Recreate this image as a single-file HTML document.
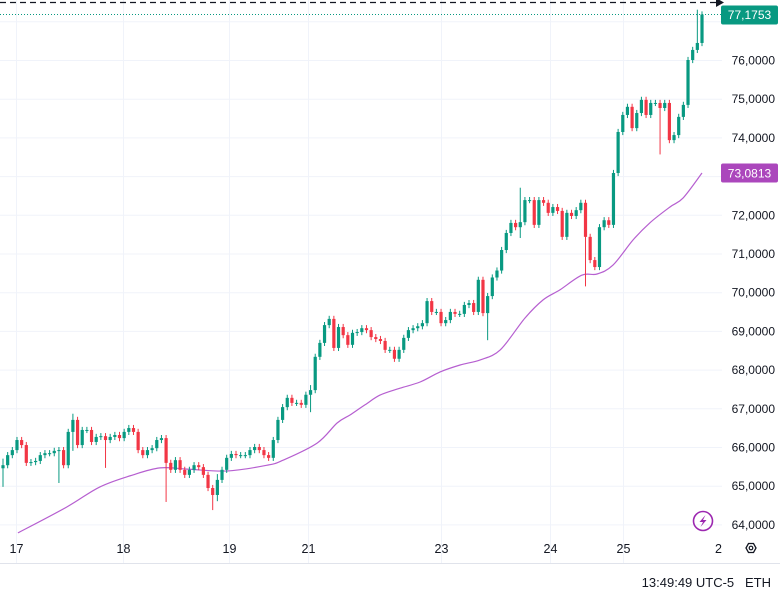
<!DOCTYPE html>
<html><head><meta charset="utf-8"><style>
html,body{margin:0;padding:0;background:#fff;}
body{width:780px;height:596px;overflow:hidden;font-family:"Liberation Sans",sans-serif;}
svg text{font-family:"Liberation Sans",sans-serif;}
</style></head><body>
<svg id="chart" width="780" height="596" viewBox="0 0 780 596" xmlns="http://www.w3.org/2000/svg">
<g id="grid"></g>
<g id="ma"></g>
<g id="candles"></g>
<g id="yaxis"></g>
<g id="xaxis"></g>
<line x1="0" y1="2.5" x2="716" y2="2.5" stroke="#131722" stroke-width="1.2" stroke-dasharray="6,4"/>
<polygon points="716,-2 724,2.5 716,7" fill="#131722"/>
<line id="lastline" x1="0" x2="722" stroke="#089981" stroke-width="1" stroke-dasharray="1,2"/>
<rect id="lastbox" x="721" width="57" height="19" rx="2" fill="#089981"/>
<text id="lasttext" x="749.5" text-anchor="middle" fill="#fff" font-size="12"></text>
<rect id="mabox" x="721" width="57" height="19" rx="2" fill="#ab47bc"/>
<text id="matext" x="749.5" text-anchor="middle" fill="#fff" font-size="12"></text>
<line x1="0" y1="563.5" x2="780" y2="563.5" stroke="#e0e3eb"/>
<g><circle cx="703" cy="521" r="9.5" fill="none" stroke="#9c27b0" stroke-width="1.6"/><path d="M705.5,515 L699.5,522 L703,522 L700.5,527 L706.5,520 L703,520 Z" fill="#9c27b0"/></g>
<g><polygon points="746,548 748.5,543.5 753.5,543.5 756,548 753.5,552.5 748.5,552.5" fill="none" stroke="#131722" stroke-width="1.3"/><circle cx="751" cy="548" r="1.8" fill="none" stroke="#131722" stroke-width="1.2"/></g>
<text x="771" y="587" text-anchor="end" font-size="13" fill="#131722">13:49:49 UTC-5 &#160; ETH</text>
</svg>
<script>
const closes=[65.53,65.79,65.92,66.18,66.05,65.59,65.61,65.64,65.79,65.84,65.84,65.90,65.92,65.53,66.39,66.70,66.05,66.44,66.44,66.13,66.26,66.28,66.18,66.26,66.31,66.23,66.39,66.49,66.39,65.92,65.79,65.92,65.97,66.18,66.23,65.59,65.41,65.66,65.41,65.28,65.41,65.53,65.48,65.28,64.94,64.76,65.15,65.41,65.72,65.82,65.79,65.79,
65.79,65.92,66.00,65.92,65.79,65.72,66.18,66.70,67.03,67.27,
67.14,67.14,67.09,67.35,67.47,68.33,68.69,69.15,69.31,68.56,
69.10,68.89,68.64,68.95,68.97,69.07,69.02,68.84,68.79,68.74,
68.51,68.51,68.28,68.51,68.82,69.02,69.07,69.12,69.20,69.77,
69.49,69.49,69.20,69.28,69.49,69.44,69.44,69.67,69.72,69.49,
70.32,69.46,69.90,70.38,70.56,71.09,71.53,71.79,71.68,71.81,
72.38,72.38,71.74,72.38,72.31,72.05,72.20,72.10,71.43,72.05,
71.97,72.12,72.31,71.43,70.83,70.65,71.68,71.86,71.74,73.08,
74.14,74.58,74.79,74.24,74.63,74.97,74.58,74.89,74.89,74.76,
74.89,73.93,74.06,74.53,74.84,76.00,76.26,76.44,77.1753];
const firstOpen=65.45;
const wickIdx=[0,12,15,22,35,45,46,66,104,111,125,141,149];
const wickLow=[64.97,65.07,65.9,65.46,64.58,64.37,64.6,66.9,68.76,71.4,70.15,73.56,76.2];
const wickHigh=[65.7,66.0,66.86,66.3,66.3,65.0,65.3,67.6,69.8,72.7,71.1,74.6,77.3];
const maIdx=[3.2,13.7,20.8,27.9,33.7,39.5,48.1,56.7,60.1,67.4,71.7,74.5,77.7,80.9,85.2,89.5,93.8,98.1,102.4,106.7,112.0,115.9,119.5,124.2,127.5,130.9,135.2,138.8,143.1,145.9,150];
const maVals=[63.78,64.45,64.97,65.28,65.46,65.43,65.38,65.53,65.66,66.10,66.62,66.83,67.09,67.34,67.52,67.68,67.94,68.12,68.25,68.51,69.33,69.80,70.06,70.44,70.47,70.70,71.35,71.79,72.20,72.43,73.0813];
const priceTicks=[64,65,66,67,68,69,70,71,72,73,74,75,76,77];
const dateLabels=["17","18","19","21","23","24","25","2"];
const dateIdx=[2.8,25.8,48.5,65.5,94,117.3,133,153.5];

const NS="http://www.w3.org/2000/svg";
const Y=p=>60+(76-p)*38.7;
const X=i=>3+i*4.66;
function mk(tag,attrs,parent){const e=document.createElementNS(NS,tag);for(const k in attrs)e.setAttribute(k,attrs[k]);parent.appendChild(e);return e;}
const fmt=v=>v.toFixed(4).replace('.',',');
const grid=document.getElementById('grid'),yax=document.getElementById('yaxis'),xax=document.getElementById('xaxis');
priceTicks.forEach(p=>{
  const l=mk('line',{x1:0,x2:722,y1:Y(p)+0.5,y2:Y(p)+0.5,stroke:'#f0f3fa'},grid);
  
  
  if(p===77)return;
  const t=mk('text',{x:775,y:Y(p)+4.5,'text-anchor':'end','font-size':'12',fill:'#131722'},yax);
  t.textContent=fmt(p);
  
  
});
dateLabels.forEach((d,k)=>{
  const x=Math.round(X(dateIdx[k]))+0.5;
  if(k<7){const l=mk('line',{x1:x,x2:x,y1:0,y2:563,stroke:'#f0f3fa'},grid);
  
  }
  const t=mk('text',{x:x,y:553,'text-anchor':'middle','font-size':'12.5',fill:'#131722'},xax);
  t.textContent=d;
  
  
});
// MA (smooth curve through points)
const P=maIdx.map((i,k)=>[X(i),Y(maVals[k])]);
let d='M'+P[0][0].toFixed(1)+','+P[0][1].toFixed(1);
for(let k=0;k<P.length-1;k++){
  const p0=P[k-1]||P[k],p1=P[k],p2=P[k+1],p3=P[k+2]||P[k+1];
  const c1=[p1[0]+(p2[0]-p0[0])/6,p1[1]+(p2[1]-p0[1])/6],c2=[p2[0]-(p3[0]-p1[0])/6,p2[1]-(p3[1]-p1[1])/6];
  d+=' C'+c1.map(v=>v.toFixed(1))+' '+c2.map(v=>v.toFixed(1))+' '+p2.map(v=>v.toFixed(1));
}
const pl=mk('path',{d:d,fill:'none',stroke:'#b65fd0','stroke-width':1.2},document.getElementById('ma'));


// candles
const cg=document.getElementById('candles');
closes.forEach((c,i)=>{
  const o=i===0?firstOpen:closes[i-1];
  let hi=Math.max(o,c)+0.08,lo=Math.min(o,c)-0.08;
  const w=wickIdx.indexOf(i);
  if(w>=0){hi=Math.max(hi,wickHigh[w]);lo=Math.min(lo,wickLow[w]);}
  const up=c>=o,col=up?'#089981':'#f23645',x=X(i);
  const g=mk('g',{},cg);
  
  
  mk('line',{x1:x,x2:x,y1:Y(hi),y2:Y(lo),stroke:col,'stroke-width':1},g);
  const top=Y(Math.max(o,c)),h=Math.max(1,Y(Math.min(o,c))-top);
  mk('rect',{x:x-1.6,y:top,width:3.2,height:h,fill:col},g);
});
const last=closes[closes.length-1],ly=Y(last);
const ll=document.getElementById('lastline');ll.setAttribute('y1',ly);ll.setAttribute('y2',ly);
document.getElementById('lastbox').setAttribute('y',ly-9);
const lt=document.getElementById('lasttext');lt.setAttribute('y',ly+4.5);lt.textContent=fmt(last);
const mv=maVals[maVals.length-1],my=Y(mv);
document.getElementById('mabox').setAttribute('y',my-9.5);
const mt=document.getElementById('matext');mt.setAttribute('y',my+4.5);mt.textContent=fmt(mv);
</script>
</body></html>
